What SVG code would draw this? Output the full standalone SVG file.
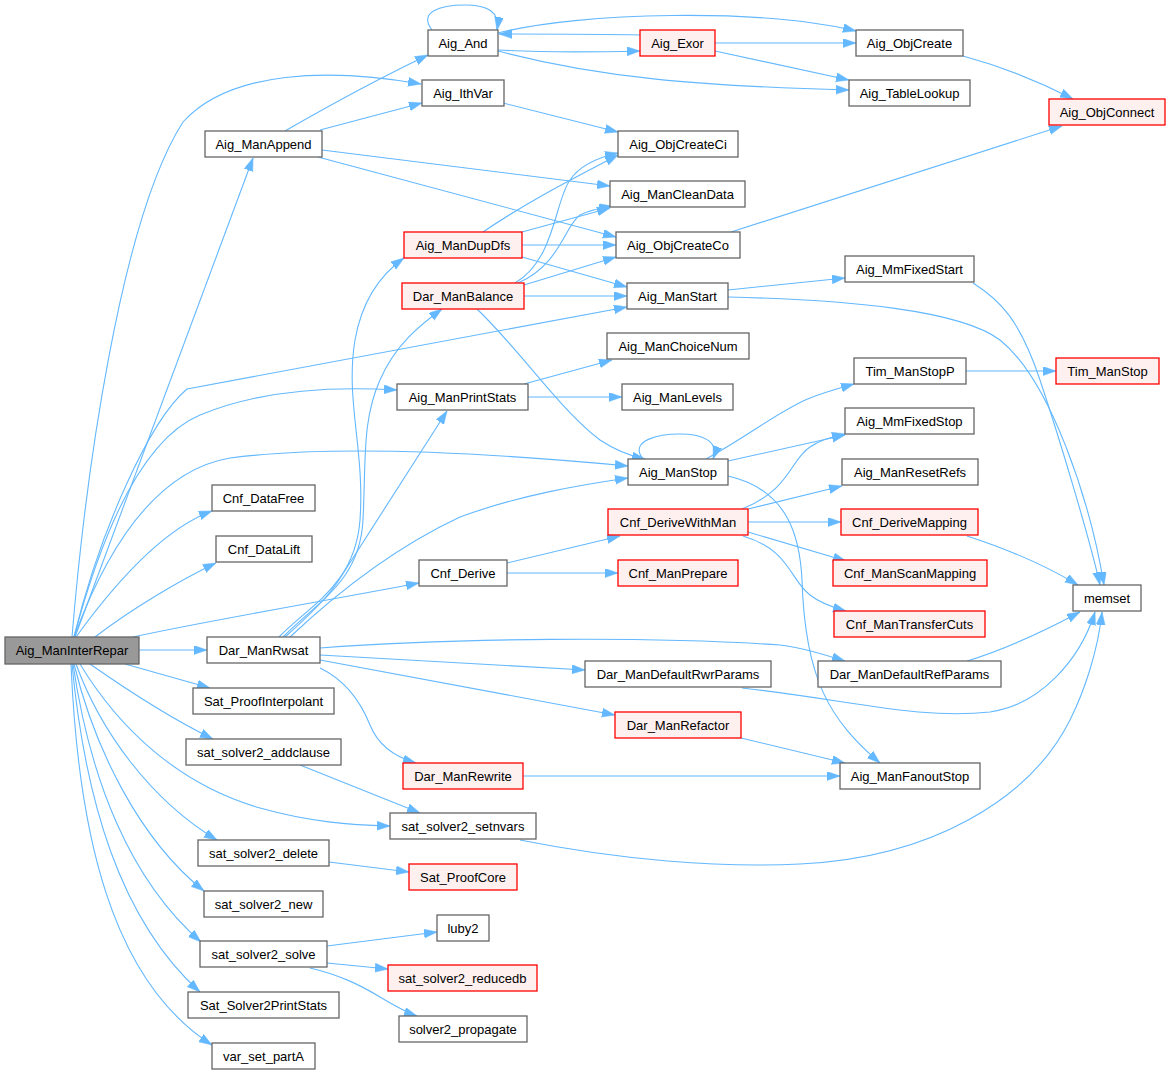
<svg xmlns="http://www.w3.org/2000/svg" width="1171" height="1075" viewBox="0 0 1171 1075">
<style>
.n rect{fill:#ffffff;stroke:#666666;stroke-width:1.3}
.r rect{fill:#fff0f0;stroke:#ff0000;stroke-width:1.3}
.root rect{fill:#999999;stroke:#666666;stroke-width:1.3}
text{font-family:"Liberation Sans",Arial,sans-serif;font-size:13px;fill:#000;text-anchor:middle}
#edges path{fill:none;stroke:#63b8ff;stroke-width:1.1;marker-end:url(#ah)}
</style>
<defs>
<marker id="ah" markerUnits="userSpaceOnUse" markerWidth="14" markerHeight="10" refX="13" refY="4.5" orient="auto" viewBox="0 0 14 10">
<path d="M0,0 L13,4.5 L0,9 z" fill="#63b8ff" stroke="#63b8ff" stroke-width="0.5"/>
</marker>
</defs>
<rect width="1171" height="1075" fill="#ffffff"/>
<g id="edges">
<path d="M72,637 C85,480 120,220 183,122 C230,70 330,68 421,84"/>
<path d="M75,637 L253,158"/>
<path d="M74,637 C100,530 150,420 187,389 L627,307"/>
<path d="M74,637 C100,540 140,440 200,415 C260,390 330,386 397,390"/>
<path d="M74,637 C110,540 160,470 230,458 C330,445 480,452 628,466"/>
<path d="M76,637 C110,590 160,530 212,511"/>
<path d="M95,637 C130,610 180,580 216,563"/>
<path d="M133,637 C200,622 330,600 419,583"/>
<path d="M139,650 L207,650"/>
<path d="M125,664 L210,688"/>
<path d="M90,664 C120,685 170,718 213,739"/>
<path d="M80,664 C120,730 180,785 260,808 C310,822 350,825 390,826"/>
<path d="M76,664 C100,730 150,800 217,840"/>
<path d="M74,664 C95,750 140,840 204,891"/>
<path d="M73,664 C90,780 130,880 201,942"/>
<path d="M72,664 C85,800 120,920 200,992"/>
<path d="M71,664 C78,830 110,980 212,1045"/>
<path d="M285,131 C330,105 380,78 428,55"/>
<path d="M320,130 L422,103"/>
<path d="M322,150 L610,186"/>
<path d="M318,157 L616,237"/>
<path d="M432,30 C418,12 440,5 465,5 C488,5 500,12 497,30"/>
<path d="M498,50 C550,53 600,52 640,51"/>
<path d="M498,33 C580,12 760,8 856,31"/>
<path d="M498,51 C600,78 700,86 849,90"/>
<path d="M640,35 C600,34 550,34 499,34"/>
<path d="M715,43 L856,43"/>
<path d="M715,51 L849,80"/>
<path d="M963,56 C1000,66 1040,82 1073,99"/>
<path d="M731,232 L1062,126"/>
<path d="M503,103 L618,132"/>
<path d="M483,232 C530,200 580,175 618,155"/>
<path d="M522,232 L610,208"/>
<path d="M522,245 L616,245"/>
<path d="M522,257 L627,287"/>
<path d="M515,283 C555,260 555,200 570,180 C580,165 600,157 618,153"/>
<path d="M518,283 C560,265 565,225 580,215 C590,210 600,208 612,206"/>
<path d="M524,285 L616,257"/>
<path d="M524,296 L627,296"/>
<path d="M477,309 C520,350 560,410 600,440 C615,450 630,456 645,459"/>
<path d="M728,290 L845,278"/>
<path d="M728,297 C850,300 960,310 1000,340 C1050,380 1090,500 1104,585"/>
<path d="M973,283 C1000,300 1020,320 1040,380 C1060,440 1090,540 1100,585"/>
<path d="M524,384 L612,360"/>
<path d="M528,397 L622,397"/>
<path d="M643,459 C628,440 660,434 680,434 C700,434 720,440 713,459"/>
<path d="M706,459 C750,435 780,410 810,398 C825,392 840,388 854,384"/>
<path d="M728,461 L845,435"/>
<path d="M728,476 C790,490 800,540 802,580 C805,680 830,720 880,763"/>
<path d="M742,509 C790,490 790,460 810,447 C820,440 835,436 845,434"/>
<path d="M748,509 L842,486"/>
<path d="M748,522 L841,522"/>
<path d="M748,532 L846,561"/>
<path d="M743,536 C790,550 790,580 810,595 C820,603 835,608 846,611"/>
<path d="M507,563 L620,536"/>
<path d="M507,573 L618,573"/>
<path d="M967,536 C1010,550 1050,568 1078,585"/>
<path d="M967,661 C1010,648 1050,628 1080,612"/>
<path d="M742,688 C850,700 920,720 990,712 C1040,705 1080,660 1095,612"/>
<path d="M520,840 C620,860 720,868 800,864 C930,858 1030,800 1070,720 C1085,690 1098,650 1102,612"/>
<path d="M966,371 L1056,371"/>
<path d="M279,637 C310,605 355,585 360,520 C365,450 345,400 355,340 C362,300 380,275 404,258"/>
<path d="M283,637 C320,600 360,580 363,520 C366,460 362,420 380,380 C395,345 420,325 442,309"/>
<path d="M285,637 C310,615 325,600 337,583 L447,411"/>
<path d="M290,637 C340,590 400,545 460,517 C520,495 580,485 628,478"/>
<path d="M320,648 C450,638 650,636 780,645 C805,648 825,655 845,661"/>
<path d="M320,655 L585,670"/>
<path d="M320,660 L615,715"/>
<path d="M320,668 C345,680 360,700 370,725 C378,745 395,757 416,763"/>
<path d="M741,738 L845,763"/>
<path d="M523,776 L840,776"/>
<path d="M300,765 L420,813"/>
<path d="M329,862 L409,872"/>
<path d="M327,946 L437,932"/>
<path d="M327,963 L388,969"/>
<path d="M310,968 C340,975 360,985 380,997 C395,1006 405,1012 417,1016"/>
</g>
<g id="n_root" class="root"><rect x="5" y="637" width="134" height="27"/><text x="72" y="655">Aig_ManInterRepar</text></g>
<g id="n_ManAppend" class="n"><rect x="205" y="131" width="117" height="26"/><text x="263.5" y="148.5">Aig_ManAppend</text></g>
<g id="n_And" class="n"><rect x="428" y="30" width="70" height="26"/><text x="463" y="47.5">Aig_And</text></g>
<g id="n_Exor" class="r"><rect x="640" y="30" width="75" height="26"/><text x="677.5" y="47.5">Aig_Exor</text></g>
<g id="n_ObjCreate" class="n"><rect x="856" y="30" width="107" height="26"/><text x="909.5" y="47.5">Aig_ObjCreate</text></g>
<g id="n_TableLookup" class="n"><rect x="849" y="80" width="121" height="26"/><text x="909.5" y="97.5">Aig_TableLookup</text></g>
<g id="n_IthVar" class="n"><rect x="422" y="80" width="82" height="26"/><text x="463" y="97.5">Aig_IthVar</text></g>
<g id="n_ObjConnect" class="r"><rect x="1049" y="99" width="116" height="26"/><text x="1107" y="116.5">Aig_ObjConnect</text></g>
<g id="n_ObjCreateCi" class="n"><rect x="618" y="131" width="120" height="26"/><text x="678" y="148.5">Aig_ObjCreateCi</text></g>
<g id="n_ManCleanData" class="n"><rect x="610" y="181" width="135" height="26"/><text x="677.5" y="198.5">Aig_ManCleanData</text></g>
<g id="n_ObjCreateCo" class="n"><rect x="616" y="232" width="124" height="26"/><text x="678" y="249.5">Aig_ObjCreateCo</text></g>
<g id="n_ManDupDfs" class="r"><rect x="404" y="232" width="118" height="26"/><text x="463" y="249.5">Aig_ManDupDfs</text></g>
<g id="n_DarManBalance" class="r"><rect x="402" y="283" width="122" height="26"/><text x="463" y="300.5">Dar_ManBalance</text></g>
<g id="n_ManStart" class="n"><rect x="627" y="283" width="101" height="26"/><text x="677.5" y="300.5">Aig_ManStart</text></g>
<g id="n_MmFixedStart" class="n"><rect x="845" y="256" width="129" height="26"/><text x="909.5" y="273.5">Aig_MmFixedStart</text></g>
<g id="n_ManChoiceNum" class="n"><rect x="607" y="333" width="142" height="26"/><text x="678" y="350.5">Aig_ManChoiceNum</text></g>
<g id="n_TimManStopP" class="n"><rect x="854" y="358" width="112" height="26"/><text x="910" y="375.5">Tim_ManStopP</text></g>
<g id="n_TimManStop" class="r"><rect x="1056" y="358" width="103" height="26"/><text x="1107.5" y="375.5">Tim_ManStop</text></g>
<g id="n_ManPrintStats" class="n"><rect x="397" y="384" width="131" height="26"/><text x="462.5" y="401.5">Aig_ManPrintStats</text></g>
<g id="n_ManLevels" class="n"><rect x="622" y="384" width="111" height="26"/><text x="677.5" y="401.5">Aig_ManLevels</text></g>
<g id="n_MmFixedStop" class="n"><rect x="845" y="408" width="129" height="26"/><text x="909.5" y="425.5">Aig_MmFixedStop</text></g>
<g id="n_ManStop" class="n"><rect x="628" y="459" width="100" height="26"/><text x="678" y="476.5">Aig_ManStop</text></g>
<g id="n_ManResetRefs" class="n"><rect x="842" y="459" width="136" height="26"/><text x="910" y="476.5">Aig_ManResetRefs</text></g>
<g id="n_CnfDataFree" class="n"><rect x="212" y="485" width="103" height="26"/><text x="263.5" y="502.5">Cnf_DataFree</text></g>
<g id="n_CnfDeriveWithMan" class="r"><rect x="608" y="509" width="140" height="26"/><text x="678" y="526.5">Cnf_DeriveWithMan</text></g>
<g id="n_CnfDeriveMapping" class="r"><rect x="841" y="509" width="137" height="26"/><text x="909.5" y="526.5">Cnf_DeriveMapping</text></g>
<g id="n_CnfDataLift" class="n"><rect x="216" y="536" width="96" height="26"/><text x="264" y="553.5">Cnf_DataLift</text></g>
<g id="n_CnfDerive" class="n"><rect x="419" y="560" width="88" height="26"/><text x="463" y="577.5">Cnf_Derive</text></g>
<g id="n_CnfManPrepare" class="r"><rect x="618" y="560" width="120" height="26"/><text x="678" y="577.5">Cnf_ManPrepare</text></g>
<g id="n_CnfManScanMapping" class="r"><rect x="833" y="560" width="154" height="26"/><text x="910" y="577.5">Cnf_ManScanMapping</text></g>
<g id="n_memset" class="n"><rect x="1073" y="585" width="68" height="26"/><text x="1107" y="602.5">memset</text></g>
<g id="n_CnfManTransferCuts" class="r"><rect x="834" y="611" width="151" height="26"/><text x="909.5" y="628.5">Cnf_ManTransferCuts</text></g>
<g id="n_DarManRwsat" class="n"><rect x="207" y="637" width="113" height="26"/><text x="263.5" y="654.5">Dar_ManRwsat</text></g>
<g id="n_DarDefaultRwrParams" class="n"><rect x="585" y="661" width="186" height="26"/><text x="678" y="678.5">Dar_ManDefaultRwrParams</text></g>
<g id="n_DarDefaultRefParams" class="n"><rect x="818" y="661" width="183" height="26"/><text x="909.5" y="678.5">Dar_ManDefaultRefParams</text></g>
<g id="n_SatProofInterpolant" class="n"><rect x="193" y="688" width="141" height="26"/><text x="263.5" y="705.5">Sat_ProofInterpolant</text></g>
<g id="n_DarManRefactor" class="r"><rect x="615" y="712" width="126" height="26"/><text x="678" y="729.5">Dar_ManRefactor</text></g>
<g id="n_addclause" class="n"><rect x="186" y="739" width="155" height="26"/><text x="263.5" y="756.5">sat_solver2_addclause</text></g>
<g id="n_DarManRewrite" class="r"><rect x="403" y="763" width="120" height="26"/><text x="463" y="780.5">Dar_ManRewrite</text></g>
<g id="n_ManFanoutStop" class="n"><rect x="840" y="763" width="140" height="26"/><text x="910" y="780.5">Aig_ManFanoutStop</text></g>
<g id="n_setnvars" class="n"><rect x="390" y="813" width="146" height="26"/><text x="463" y="830.5">sat_solver2_setnvars</text></g>
<g id="n_delete" class="n"><rect x="198" y="840" width="131" height="26"/><text x="263.5" y="857.5">sat_solver2_delete</text></g>
<g id="n_SatProofCore" class="r"><rect x="409" y="864" width="108" height="26"/><text x="463" y="881.5">Sat_ProofCore</text></g>
<g id="n_new" class="n"><rect x="204" y="891" width="119" height="26"/><text x="263.5" y="908.5">sat_solver2_new</text></g>
<g id="n_luby2" class="n"><rect x="437" y="915" width="52" height="26"/><text x="463" y="932.5">luby2</text></g>
<g id="n_solve" class="n"><rect x="200" y="941" width="127" height="26"/><text x="263.5" y="958.5">sat_solver2_solve</text></g>
<g id="n_reducedb" class="r"><rect x="388" y="965" width="149" height="26"/><text x="462.5" y="982.5">sat_solver2_reducedb</text></g>
<g id="n_PrintStats2" class="n"><rect x="188" y="992" width="151" height="26"/><text x="263.5" y="1009.5">Sat_Solver2PrintStats</text></g>
<g id="n_propagate" class="n"><rect x="399" y="1016" width="128" height="26"/><text x="463" y="1033.5">solver2_propagate</text></g>
<g id="n_varsetpartA" class="n"><rect x="212" y="1043" width="103" height="26"/><text x="263.5" y="1060.5">var_set_partA</text></g>
</svg>
